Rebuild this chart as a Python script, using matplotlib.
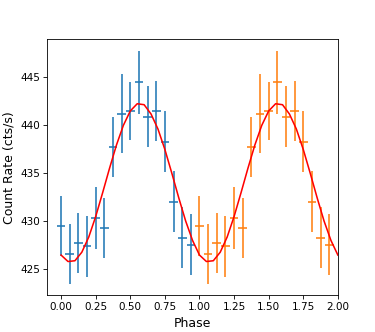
import matplotlib
matplotlib.use("Agg")
import matplotlib.pyplot as plt
import numpy as np

# Folded light curve (16 phase bins)
phase = [0.0, 0.0625, 0.125, 0.1875, 0.25, 0.3125, 0.375, 0.4375,
         0.5, 0.5625, 0.625, 0.6875, 0.75, 0.8125, 0.875, 0.9375]
rate = [429.49, 426.57, 427.71, 427.37, 430.32, 429.28, 437.70, 441.17,
        441.45, 444.44, 440.86, 441.45, 438.25, 432.00, 428.27, 427.54]
rate_err = [3.1, 3.08, 3.15, 3.17, 3.2, 3.1, 3.1, 4.09,
            3.0, 3.27, 3.15, 3.1, 3.2, 3.2, 3.17, 3.2]
phase_halfwidth = 1 / 32

# Model curve (one cycle, repeated)
model_phase = [0.0, 0.05, 0.10, 0.15, 0.20, 0.25, 0.30, 0.35, 0.40, 0.45,
               0.50, 0.55, 0.60, 0.65, 0.70, 0.75, 0.80, 0.85, 0.90, 0.95]
model_rate = [426.45, 425.78, 425.86, 426.75, 428.33, 430.46, 432.93, 435.48,
              437.90, 439.95, 441.45, 442.20, 442.10, 441.13, 439.57, 437.44,
              434.98, 432.42, 430.00, 427.97]

fig = plt.figure(figsize=(5, 332 / 75), dpi=75)
ax = fig.add_axes([0.126, 0.111, 0.775, 0.771])

ph = np.array(phase)
ax.errorbar(ph, rate, xerr=phase_halfwidth, yerr=rate_err, ls='none', color='C0')
ax.errorbar(ph + 1, rate, xerr=phase_halfwidth, yerr=rate_err, ls='none', color='C1')

mp = np.concatenate([np.array(model_phase), np.array(model_phase) + 1, [2.0]])
mr = np.concatenate([model_rate, model_rate, [model_rate[0]]])
ax.plot(mp, mr, color='red', lw=1.5)

ax.set_xlim(-0.1, 2.0)
ax.set_xticks(np.arange(0, 2.01, 0.25))
ax.set_yticks([425, 430, 435, 440, 445])
ax.tick_params(labelsize=10)
ax.set_xlabel('Phase', fontsize=12)
ax.set_ylabel('Count Rate (cts/s)', fontsize=12)

fig.savefig('out.png', dpi=75)
